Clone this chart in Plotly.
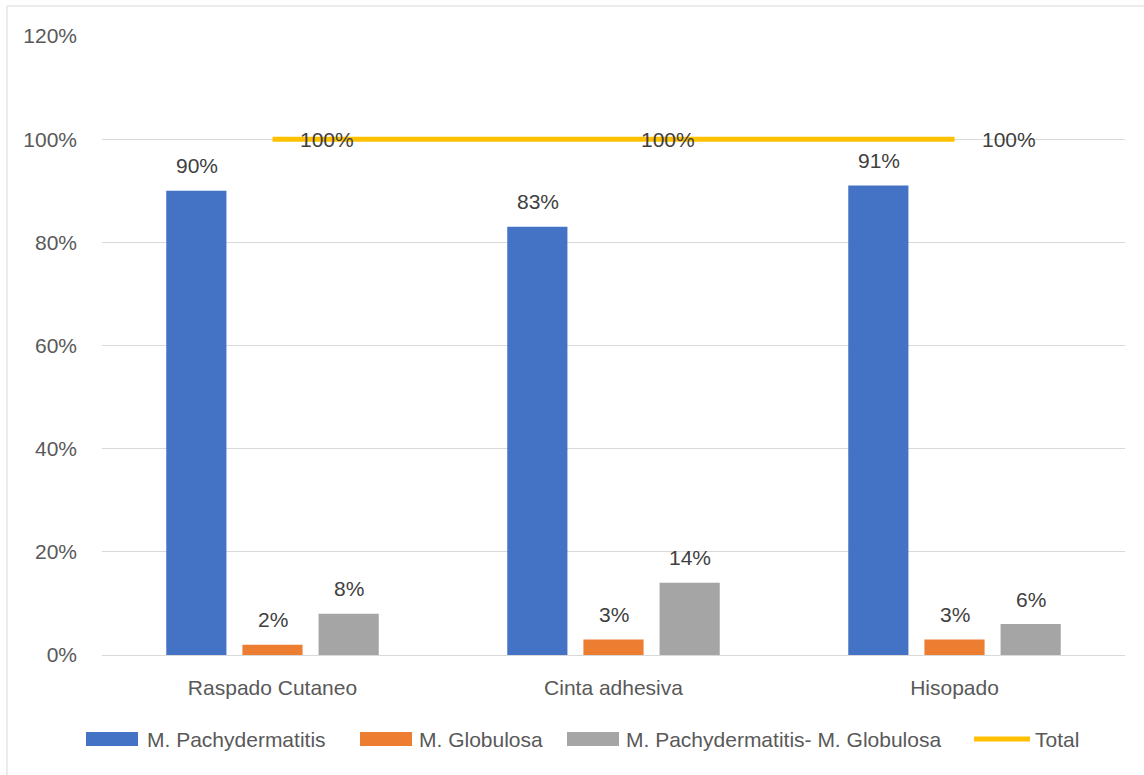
import plotly.graph_objects as go

# Sampling methods and detection rates per Malassezia group
categories = ["Raspado Cutaneo", "Cinta adhesiva", "Hisopado"]
pachydermatitis = [0.90, 0.83, 0.91]
globulosa = [0.02, 0.03, 0.03]
mixta = [0.08, 0.14, 0.06]
total = [1.00, 1.00, 1.00]

series = [
    ("M. Pachydermatitis", pachydermatitis, "#4472C4"),
    ("M. Globulosa", globulosa, "#ED7D31"),
    ("M. Pachydermatitis- M. Globulosa", mixta, "#A5A5A5"),
]
TOTAL_NAME = "Total"
TOTAL_COLOR = "#FFC000"

FONT = "Liberation Sans, Arial, sans-serif"
SIZE = 21
LABEL_COLOR = "#404040"
AXIS_COLOR = "#595959"
GRID = "#D9D9D9"

# plot-area geometry in pixels (used to convert legend positions to paper units)
W, H = 1144, 775
L, R, T, B = 102, 19, 36, 120
PW, PH = W - L - R, H - T - B


def px(xp):
    return (xp - L) / PW


def py(yp):
    return (H - B - yp) / PH


fig = go.Figure()
for name, vals, color in series:
    fig.add_trace(go.Bar(
        x=categories, y=vals, name=name, marker_color=color,
        marker_line_width=0, showlegend=False,
    ))

fig.add_trace(go.Scatter(
    x=categories, y=total, name=TOTAL_NAME, mode="lines",
    line=dict(color=TOTAL_COLOR, width=5), showlegend=False,
))

annotations = []
# value labels above each bar
offsets = [-76, 0, 76]
for (name, vals, color), dx in zip(series, offsets):
    for c, v in zip(categories, vals):
        annotations.append(dict(
            x=c, y=v, xref="x", yref="y", text=f"{round(v*100)}%",
            showarrow=False, xshift=dx, yshift=25,
            font=dict(family=FONT, size=SIZE, color=LABEL_COLOR),
        ))
# labels on the total line, to the right of each point
for c, v in zip(categories, total):
    annotations.append(dict(
        x=c, y=v, xref="x", yref="y", text=f"{round(v*100)}%",
        showarrow=False, xanchor="left", xshift=25, yshift=0,
        font=dict(family=FONT, size=SIZE, color=LABEL_COLOR),
    ))

shapes = [dict(
    type="rect", xref="paper", yref="paper",
    x0=px(7), x1=1.2, y0=-0.4, y1=py(6),
    line=dict(color=GRID, width=1), layer="below",
)]

# legend row along the bottom: wide swatches for bars, a thick stroke for the line
legend_y = 739
legend_items = [
    (series[0][0], series[0][2], "bar", 86, 145),
    (series[1][0], series[1][2], "bar", 360, 417),
    (series[2][0], series[2][2], "bar", 567, 624),
    (TOTAL_NAME, TOTAL_COLOR, "line", 972, 1033),
]
for name, color, kind, sx, tx in legend_items:
    if kind == "bar":
        shapes.append(dict(
            type="rect", xref="paper", yref="paper",
            x0=px(sx), x1=px(sx + 52), y0=py(legend_y + 7), y1=py(legend_y - 7),
            fillcolor=color, line=dict(width=0),
        ))
    else:
        shapes.append(dict(
            type="line", xref="paper", yref="paper",
            x0=px(sx + 2), x1=px(tx - 3), y0=py(legend_y), y1=py(legend_y),
            line=dict(color=color, width=5),
        ))
    annotations.append(dict(
        x=px(tx), y=py(legend_y), xref="paper", yref="paper", text=name,
        showarrow=False, xanchor="left", yanchor="middle",
        font=dict(family=FONT, size=SIZE, color=AXIS_COLOR),
    ))

fig.update_layout(
    width=W, height=H,
    margin=dict(l=L, r=R, t=T, b=B),
    paper_bgcolor="white", plot_bgcolor="white",
    barmode="group", bargap=0.33, bargroupgap=0.21,
    font=dict(family=FONT, size=SIZE, color=AXIS_COLOR),
    annotations=annotations,
    shapes=shapes,
    showlegend=False,
)

fig.update_yaxes(
    range=[0, 1.2], dtick=0.2, tickformat=".0%",
    showgrid=True, gridcolor=GRID, gridwidth=1,
    zeroline=True, zerolinecolor=GRID, zerolinewidth=1,
    showline=False, ticklabelstandoff=24,
    tickfont=dict(family=FONT, size=SIZE, color=AXIS_COLOR),
)
fig.update_xaxes(
    showgrid=False, showline=False, ticklabelstandoff=18,
    tickfont=dict(family=FONT, size=SIZE, color=AXIS_COLOR),
)

fig.write_html("out.html")
